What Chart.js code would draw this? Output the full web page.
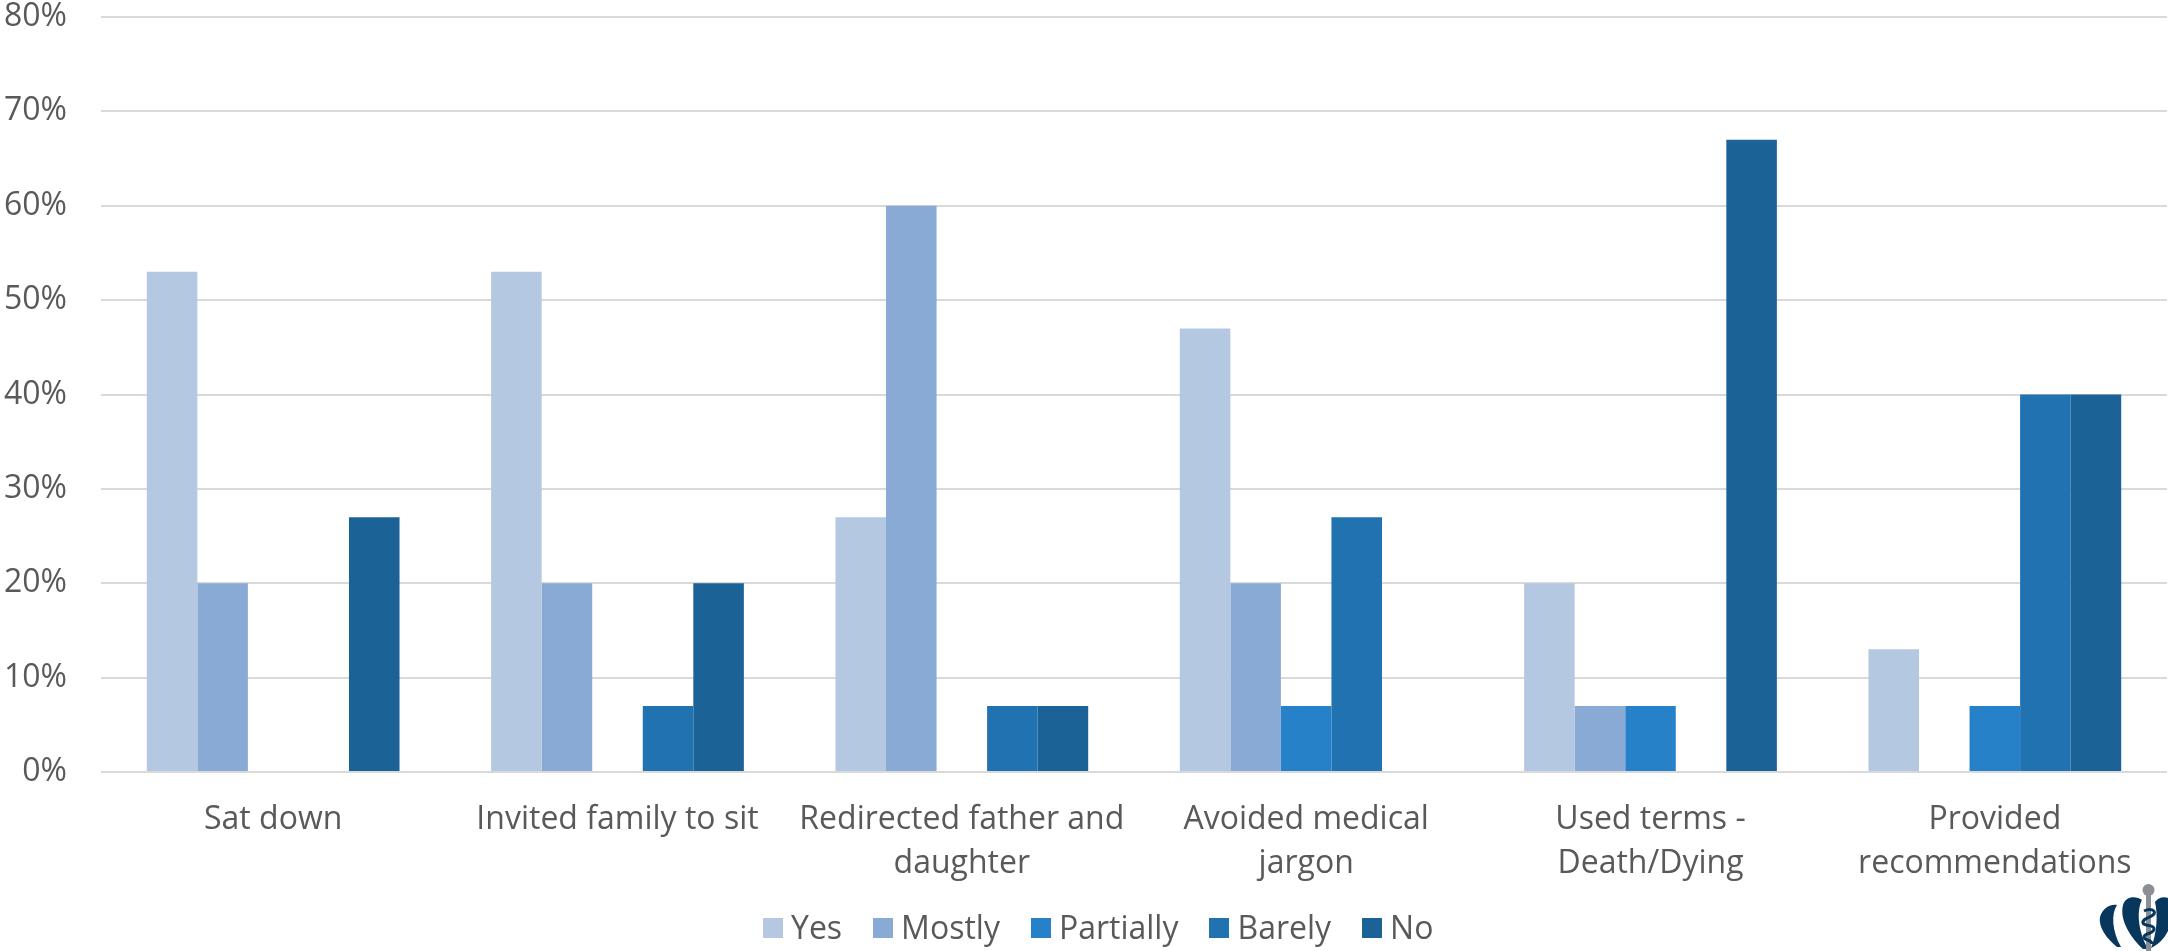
<!DOCTYPE html>
<html>
<head>
<meta charset="utf-8">
<title>Communication behaviours</title>
<script src="https://cdn.jsdelivr.net/npm/chart.js@4"></script>
<style>
  html, body { margin: 0; padding: 0; background: #fff; }
  #wrap { position: relative; width: 2168px; height: 951px; overflow: hidden; }
  #legend {
    position: absolute; left: 763px; top: 908px; height: 40px;
    display: flex; align-items: center;
    font: 32px "Open Sans", sans-serif; color: #595959;
  }
  #legend span.item { display: flex; align-items: center; margin-right: 31px; }
  #legend span.item:last-child { margin-right: 0; }
  #legend i { display: block; width: 20px; height: 20px; margin-right: 8px; }
  #legend b { font-weight: normal; position: relative; top: -2px; }
  #logo { position: absolute; left: 2090px; top: 881px; }
</style>
</head>
<body>
<div id="wrap">
  <canvas id="chart" width="2168" height="951"></canvas>
  <div id="legend"></div>
  <svg id="logo" width="78" height="71" viewBox="0 0 78 71">
    <path d="M10 36 C13 27 20 23 27 24 C21 33 22 50 31 66 L27 66 C17 58 8 46 10 36Z" fill="#07375c"/>
    <path d="M33 24 C35 16 45 14 52 19 C47 28 47 48 58 68 L53 68 C42 58 29 40 33 24Z" fill="#07375c"/>
    <path d="M78 17 C73 15 68 17 65 21 C68 34 67 52 61 67 C69 63 74 58 78 50Z" fill="#07375c"/>
    <rect x="56" y="12" width="5" height="58" fill="#8a8f96"/>
    <circle cx="58.5" cy="9" r="6" fill="#8a8f96"/>
    <path d="M54 30 C60 27 66 29 64 33 C61 37 52 37 53 42 C55 46 64 43 64 48 C64 53 54 52 54 56 C54 60 62 58 62 63" fill="none" stroke="#07375c" stroke-width="3"/>
  </svg>
</div>
<script>
const categories = [
  'Sat down',
  'Invited family to sit',
  ['Redirected father and', 'daughter'],
  ['Avoided medical', 'jargon'],
  ['Used terms -', 'Death/Dying'],
  ['Provided', 'recommendations'],
];
const yesValues = [53, 53, 27, 47, 20, 13];
const mostlyValues = [20, 20, 60, 20, 7, 0];
const partiallyValues = [0, 0, 0, 7, 7, 7];
const barelyValues = [0, 7, 7, 27, 0, 40];
const noValues = [27, 20, 7, 0, 67, 40];

const textColor = '#595959';
const fontFamily = '"Open Sans", sans-serif';

function toDataset(label, data, color) {
  return { label, data, backgroundColor: color, borderWidth: 0 };
}

const chart = new Chart(document.getElementById('chart'), {
  type: 'bar',
  data: {
    labels: categories,
    datasets: [
      toDataset('Yes', yesValues, '#b5c8e2'),
      toDataset('Mostly', mostlyValues, '#89aad5'),
      toDataset('Partially', partiallyValues, '#2681c8'),
      toDataset('Barely', barelyValues, '#2072b0'),
      toDataset('No', noValues, '#1b6296'),
    ],
  },
  options: {
    responsive: false,
    animation: false,
    layout: { autoPadding: false, padding: { top: 17, right: 1, left: 0, bottom: 0 } },
    datasets: { bar: { categoryPercentage: 0.734, barPercentage: 1 } },
    plugins: {
      legend: { display: false },
      tooltip: { enabled: false },
    },
    scales: {
      x: {
        grid: { display: false },
        border: { display: false },
        // keep the axis band a fixed height so the plot bottom stays put
        afterFit: (scale) => { scale.height = 179; },
        ticks: {
          color: textColor,
          font: { family: fontFamily, size: 32, lineHeight: 1.375 },
          padding: 18,
          maxRotation: 0,
          autoSkip: false,
        },
      },
      y: {
        min: 0,
        max: 80,
        grid: { color: '#d9d9d9', lineWidth: 2, drawTicks: false },
        border: { display: false },
        // tick padding would otherwise push the top of the plot down
        afterFit: (scale) => {
          scale.width = 101;
          scale.paddingTop = 0;
          scale.paddingBottom = 0;
        },
        ticks: {
          stepSize: 10,
          color: textColor,
          font: { family: fontFamily, size: 32 },
          padding: 34,
          callback: (v) => v + '%',
        },
      },
    },
  },
});

// legend sits in the page so the swatch-to-text gap can be tighter than the built-in one
const legendEl = document.getElementById('legend');
chart.data.datasets.forEach((ds) => {
  const item = document.createElement('span');
  item.className = 'item';
  const swatch = document.createElement('i');
  swatch.style.background = ds.backgroundColor;
  const text = document.createElement('b');
  text.textContent = ds.label;
  item.appendChild(swatch);
  item.appendChild(text);
  legendEl.appendChild(item);
});
</script>
</body>
</html>
